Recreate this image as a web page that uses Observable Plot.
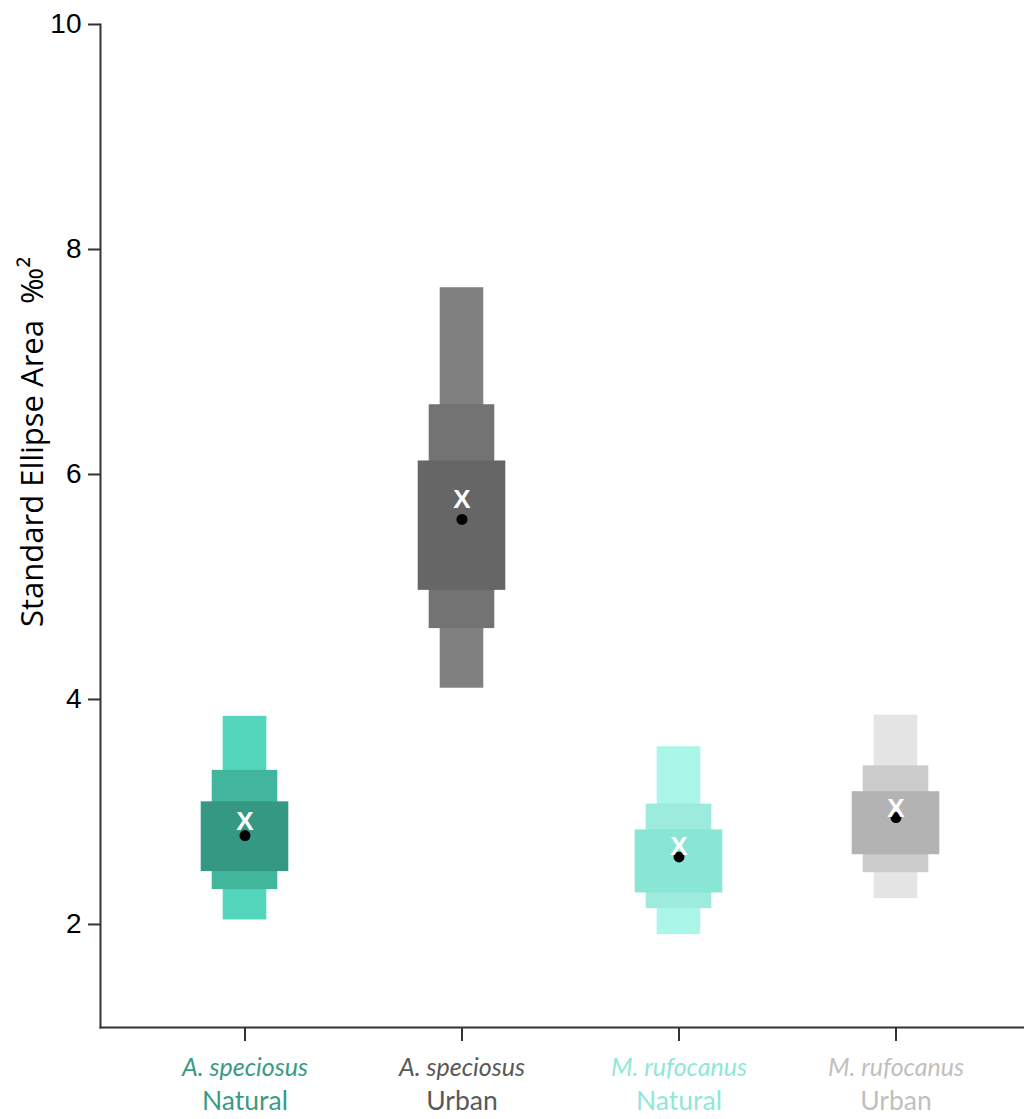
<!DOCTYPE html>
<html><head><meta charset="utf-8">
<script src="https://cdn.jsdelivr.net/npm/d3@7"></script>
<script src="https://cdn.jsdelivr.net/npm/@observablehq/plot@0.6"></script>
<style>body{margin:0;background:#fff}</style>
</head><body><div id="chart"></div>
<script>
// ---- data ----
const species = ["A. speciosus", "A. speciosus", "M. rufocanus", "M. rufocanus"];
const habitat = ["Natural", "Urban", "Natural", "Urban"];
const ci95Lo = [2.04, 4.10, 1.91, 2.23];
const ci95Hi = [3.85, 7.66, 3.58, 3.86];
const ci75Lo = [2.31, 4.63, 2.14, 2.46];
const ci75Hi = [3.37, 6.62, 3.07, 3.41];
const ci50Lo = [2.47, 4.97, 2.28, 2.62];
const ci50Hi = [3.09, 6.12, 2.84, 3.18];
const modeVal = [2.79, 5.60, 2.60, 2.95];
const meanVal = [2.91, 5.78, 2.69, 3.03];
const yTicks = [2, 4, 6, 8, 10];
const yLabel = "Standard Ellipse Area\u00a0\u00a0‰²";

// ---- styles ----
const shade95 = ["#53d6bc", "#808080", "#aaf6e8", "#e5e5e5"];
const shade75 = ["#42b59d", "#737373", "#9cebdc", "#cccccc"];
const shade50 = ["#359883", "#666666", "#8ae6d4", "#b3b3b3"];
const labelColor = ["#3a9a85", "#595959", "#8ee8d8", "#bfbfbf"];

const groups = species.map((s, i) => s + " " + habitat[i]);
const rows = groups.map((g, i) => ({
  group: g, species: species[i], habitat: habitat[i],
  lo95: ci95Lo[i], hi95: ci95Hi[i], lo75: ci75Lo[i], hi75: ci75Hi[i],
  lo50: ci50Lo[i], hi50: ci50Hi[i], mode: modeVal[i], mean: meanVal[i], idx: i
}));

const axisCol = "#333";
const plot = Plot.plot({
  width: 1024, height: 1119,
  marginTop: 24, marginLeft: 100, marginRight: 0, marginBottom: 92,
  style: {fontFamily: "'Liberation Sans', Arial, sans-serif", fontSize: "28px", background: "white", color: "#000"},
  x: {type: "band", domain: groups, range: [135.33, 1004.67], padding: 0, label: null},
  y: {domain: [1.084, 10], label: null},
  color: {type: "identity"},
  marks: [
    Plot.barY(rows, {x: "group", y1: "lo95", y2: "hi95", fill: d => shade95[d.idx], insetLeft: 86.7, insetRight: 86.7}),
    Plot.barY(rows, {x: "group", y1: "lo75", y2: "hi75", fill: d => shade75[d.idx], insetLeft: 75.7, insetRight: 75.7}),
    Plot.barY(rows, {x: "group", y1: "lo50", y2: "hi50", fill: d => shade50[d.idx], insetLeft: 64.7, insetRight: 64.7}),
    Plot.dot(rows, {x: "group", y: "mode", r: 5.5, fill: "black"}),
    Plot.text(rows, {x: "group", y: "mean", text: () => "X", fill: "white", fontSize: 26, fontWeight: "bold", fontFamily: "'Liberation Sans', Arial, sans-serif"}),
    Plot.frame({anchor: "left", stroke: axisCol, strokeWidth: 2}),
    Plot.frame({anchor: "bottom", stroke: axisCol, strokeWidth: 2}),
    Plot.axisY({ticks: yTicks, tickSize: 12, tickPadding: 7, fontSize: 28, label: null, stroke: axisCol, strokeWidth: 2, fill: "black"}),
    Plot.axisX({tickSize: 14, tickFormat: () => "", label: null, stroke: axisCol, strokeWidth: 2}),
    Plot.text(rows, {x: "group", frameAnchor: "bottom", text: "species", fontStyle: "italic", fill: d => labelColor[d.idx],
      lineAnchor: "bottom", dy: 48, fontFamily: "Lato, 'Open Sans', sans-serif", fontSize: 25}),
    Plot.text(rows, {x: "group", frameAnchor: "bottom", text: "habitat", fill: d => labelColor[d.idx],
      lineAnchor: "bottom", dy: 82, fontFamily: "Lato, 'Open Sans', sans-serif", fontSize: 26.5}),
    Plot.text([yLabel], {text: d => d, frameAnchor: "left", rotate: -90, textAnchor: "start", lineAnchor: "bottom",
      dx: -58, dy: 101, fontFamily: "'Open Sans', sans-serif", fontSize: 31, fill: "black"})
  ]
});
document.getElementById("chart").appendChild(plot);
</script>
</body></html>
